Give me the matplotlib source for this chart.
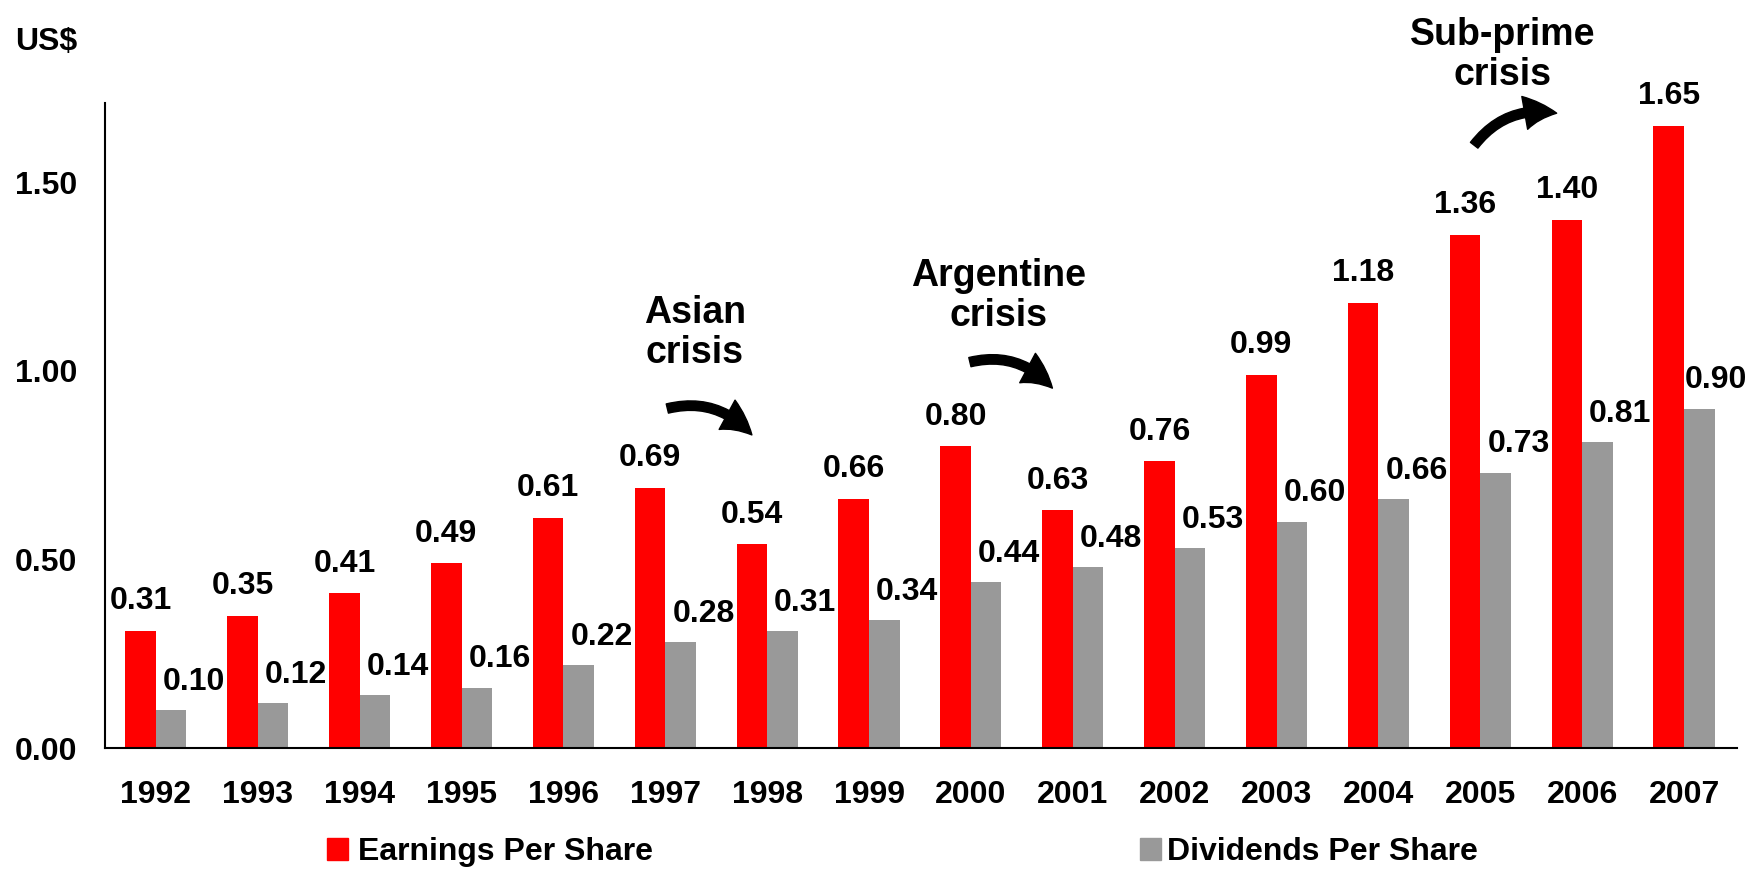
import matplotlib
matplotlib.use("Agg")
import numpy as np
import matplotlib.pyplot as plt
from matplotlib.patches import Patch, FancyArrowPatch

plt.rcParams['font.family'] = ['Liberation Sans', 'DejaVu Sans']
plt.rcParams['font.weight'] = 'bold'

years = ['1992', '1993', '1994', '1995', '1996', '1997', '1998', '1999',
         '2000', '2001', '2002', '2003', '2004', '2005', '2006', '2007']
eps = [0.31, 0.35, 0.41, 0.49, 0.61, 0.69, 0.54, 0.66,
       0.80, 0.63, 0.76, 0.99, 1.18, 1.36, 1.40, 1.65]
dps = [0.10, 0.12, 0.14, 0.16, 0.22, 0.28, 0.31, 0.34,
       0.44, 0.48, 0.53, 0.60, 0.66, 0.73, 0.81, 0.90]

# crisis annotations: label, text centre (x, y), arrow start, arrow end
crises = [
    ('Asian\ncrisis', (5.29, 1.10), (5.02, 0.90), (5.85, 0.83)),
    ('Argentine\ncrisis', (8.27, 1.198), (7.99, 1.023), (8.80, 0.954)),
    ('Sub-prime\ncrisis', (13.22, 1.838), (12.94, 1.598), (13.75, 1.683)),
]

RED = '#ff0000'
GREY = '#999999'
FS = 23

fig = plt.figure(figsize=(17.51, 8.69), dpi=100)
ax = fig.add_axes([105 / 1751, 1 - 748 / 869, (1737 - 105) / 1751, (748 - 103) / 869])

x = np.arange(len(years))
w = 0.3
ax.bar(x - w / 2, eps, width=w, color=RED, label='Earnings Per Share')
ax.bar(x + w / 2, dps, width=w, color=GREY, label='Dividends Per Share')

for i, v in enumerate(eps):
    ax.annotate(f'{v:.2f}', (x[i] - w / 2, v), xytext=(0, 10.5),
                textcoords='offset points', ha='center', va='bottom',
                fontsize=FS, fontweight='bold')
for i, v in enumerate(dps):
    dx = 16.5 if i < len(dps) - 1 else 12
    ax.annotate(f'{v:.2f}', (x[i] + w / 2, v), xytext=(dx, 9.5),
                textcoords='offset points', ha='center', va='bottom',
                fontsize=FS, fontweight='bold', annotation_clip=False)

for label, (tx, ty), start, end in crises:
    ax.text(tx, ty, label, ha='center', va='center', fontsize=27,
            fontweight='bold', linespacing=1.15, clip_on=False)
    arrow = FancyArrowPatch(start, end, connectionstyle='arc3,rad=-0.3',
                            arrowstyle='simple,head_width=1.2,head_length=1.15,tail_width=0.34',
                            mutation_scale=20, color='black', shrinkA=0, shrinkB=0,
                            clip_on=False)
    ax.add_patch(arrow)

ax.set_xlim(-0.5, 15.52)
ax.set_ylim(0, 1.71)
ax.set_xticks(x)
ax.set_xticklabels(years)
ax.set_yticks([0, 0.5, 1.0, 1.5])
ax.set_yticklabels(['0.00', '0.50', '1.00', '1.50'])
ax.tick_params(axis='x', length=0, pad=23, labelsize=FS)
ax.tick_params(axis='y', length=0, pad=20, labelsize=FS)
for s in ['top', 'right']:
    ax.spines[s].set_visible(False)
for s in ['left', 'bottom']:
    ax.spines[s].set_linewidth(1.5)
    ax.spines[s].set_color('black')

fig.text(77 / 1751, 1 - 42 / 869, 'US$', ha='right', va='center',
         fontsize=FS, fontweight='bold')

leg_kw = dict(loc='center left', frameon=False, borderpad=0, borderaxespad=0,
              handlelength=0.66, handleheight=0.66, fontsize=FS)
fig.legend(handles=[Patch(color=RED)], labels=['Earnings Per Share'],
           bbox_to_anchor=(327 / 1751, 1 - 852 / 869), handletextpad=0.3, **leg_kw)
fig.legend(handles=[Patch(color=GREY)], labels=['Dividends Per Share'],
           bbox_to_anchor=(1140 / 1751, 1 - 852 / 869), handletextpad=0.2, **leg_kw)

fig.savefig('out.png', dpi=100)
